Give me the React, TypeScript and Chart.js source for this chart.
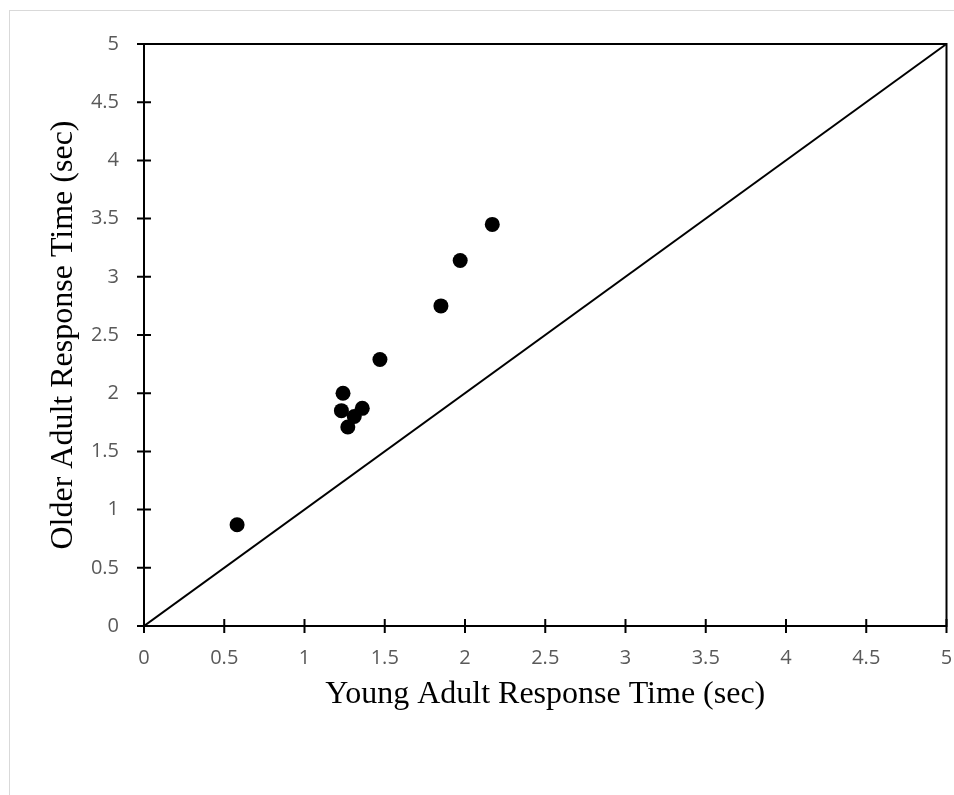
import React, { useEffect, useRef } from "react";
import { Chart, registerables } from "chart.js";

Chart.register(...registerables);

// ---- data ----
const youngRT = [0.58, 1.24, 1.23, 1.36, 1.27, 1.31, 1.47, 1.85, 1.97, 2.17];
const olderRT = [0.87, 2.0, 1.85, 1.87, 1.71, 1.8, 2.29, 2.75, 3.14, 3.45];
const refLineX = [0, 5];
const refLineY = [0, 5];
const tickValues = [0, 0.5, 1, 1.5, 2, 2.5, 3, 3.5, 4, 4.5, 5];
const tickLabels = ["0", "0.5", "1", "1.5", "2", "2.5", "3", "3.5", "4", "4.5", "5"];
const xTitle = "Young Adult Response Time (sec)";
const yTitle = "Older Adult Response Time (sec)";

const W = 954;
const H = 795;

const framePlugin = {
  id: "frame",
  beforeDraw(chart: any) {
    const ctx = chart.ctx;
    ctx.save();
    ctx.fillStyle = "#ffffff";
    ctx.fillRect(0, 0, chart.width, chart.height);
    ctx.strokeStyle = "#d9d9d9";
    ctx.lineWidth = 1;
    ctx.strokeRect(9.5, 10.5, chart.width + 40, chart.height + 40);
    ctx.restore();
  },
  afterDatasetsDraw(chart: any) {
    const ctx = chart.ctx;
    const { left, right, top, bottom } = chart.chartArea;
    const xs = chart.scales.x;
    const ys = chart.scales.y;
    ctx.save();
    ctx.strokeStyle = "#000000";
    ctx.lineWidth = 2;
    ctx.strokeRect(left, top, right - left, bottom - top);
    ctx.beginPath();
    for (const t of xs.ticks) {
      const px = xs.getPixelForValue(t.value);
      ctx.moveTo(px, bottom - 7);
      ctx.lineTo(px, bottom + 7);
    }
    for (const t of ys.ticks) {
      const py = ys.getPixelForValue(t.value);
      ctx.moveTo(left - 7, py);
      ctx.lineTo(left + 7, py);
    }
    ctx.stroke();
    ctx.restore();
  },
};

export default function App() {
  const ref = useRef<HTMLCanvasElement | null>(null);

  useEffect(() => {
    if (!ref.current) return;
    const setTicks = (scale: any) => {
      scale.ticks = tickValues.map((v) => ({ value: v }));
    };
    const fmt = (value: any) => {
      const i = tickValues.indexOf(Number(value));
      return i >= 0 ? tickLabels[i] : String(value);
    };
    const chart = new Chart(ref.current, {
      type: "scatter",
      data: {
        datasets: [
          {
            type: "line",
            label: "y = x",
            data: refLineX.map((x, i) => ({ x, y: refLineY[i] })),
            borderColor: "#000000",
            borderWidth: 2,
            pointRadius: 0,
            fill: false,
            order: 2,
          } as any,
          {
            type: "scatter",
            label: "Response time",
            data: youngRT.map((x, i) => ({ x, y: olderRT[i] })),
            backgroundColor: "#000000",
            borderColor: "#000000",
            borderWidth: 0,
            pointRadius: 7.5,
            pointHoverRadius: 7.5,
            order: 1,
          },
        ],
      },
      options: {
        animation: false,
        responsive: false,
        devicePixelRatio: 1,
        layout: { padding: { top: 44, right: 7.5, left: 0, bottom: 0 } },
        plugins: {
          legend: { display: false },
          tooltip: { enabled: false },
        },
        scales: {
          x: {
            type: "linear",
            min: 0,
            max: 5,
            afterBuildTicks: setTicks,
            afterFit: (s: any) => {
              s.height = 169;
              s.paddingLeft = 0;
              s.paddingRight = 0;
            },
            grid: { display: false, drawTicks: false },
            border: { display: false },
            ticks: {
              callback: fmt,
              color: "#595959",
              font: { family: "Open Sans", size: 20 },
              padding: 20,
              maxRotation: 0,
              autoSkip: false,
            },
            title: {
              display: true,
              text: xTitle,
              color: "#000000",
              font: { family: "Liberation Serif", size: 32 },
              padding: { top: 0, bottom: 81 },
            },
          },
          y: {
            type: "linear",
            min: 0,
            max: 5,
            afterBuildTicks: setTicks,
            afterFit: (s: any) => {
              s.width = 144;
              s.paddingTop = 0;
              s.paddingBottom = 0;
            },
            grid: { display: false, drawTicks: false },
            border: { display: false },
            ticks: {
              callback: fmt,
              color: "#595959",
              font: { family: "Open Sans", size: 20 },
              padding: 25,
              autoSkip: false,
            },
            title: {
              display: true,
              text: yTitle,
              color: "#000000",
              font: { family: "Liberation Serif", size: 32 },
              padding: { top: 44, bottom: 0 },
            },
          },
        },
      },
      plugins: [framePlugin],
    } as any);
    return () => chart.destroy();
  }, []);

  return (
    <div style={{ position: "fixed", left: 0, top: 0, width: W, height: H, overflow: "hidden" }}>
      <canvas ref={ref} width={W} height={H} style={{ display: "block", width: W, height: H }} />
    </div>
  );
}
